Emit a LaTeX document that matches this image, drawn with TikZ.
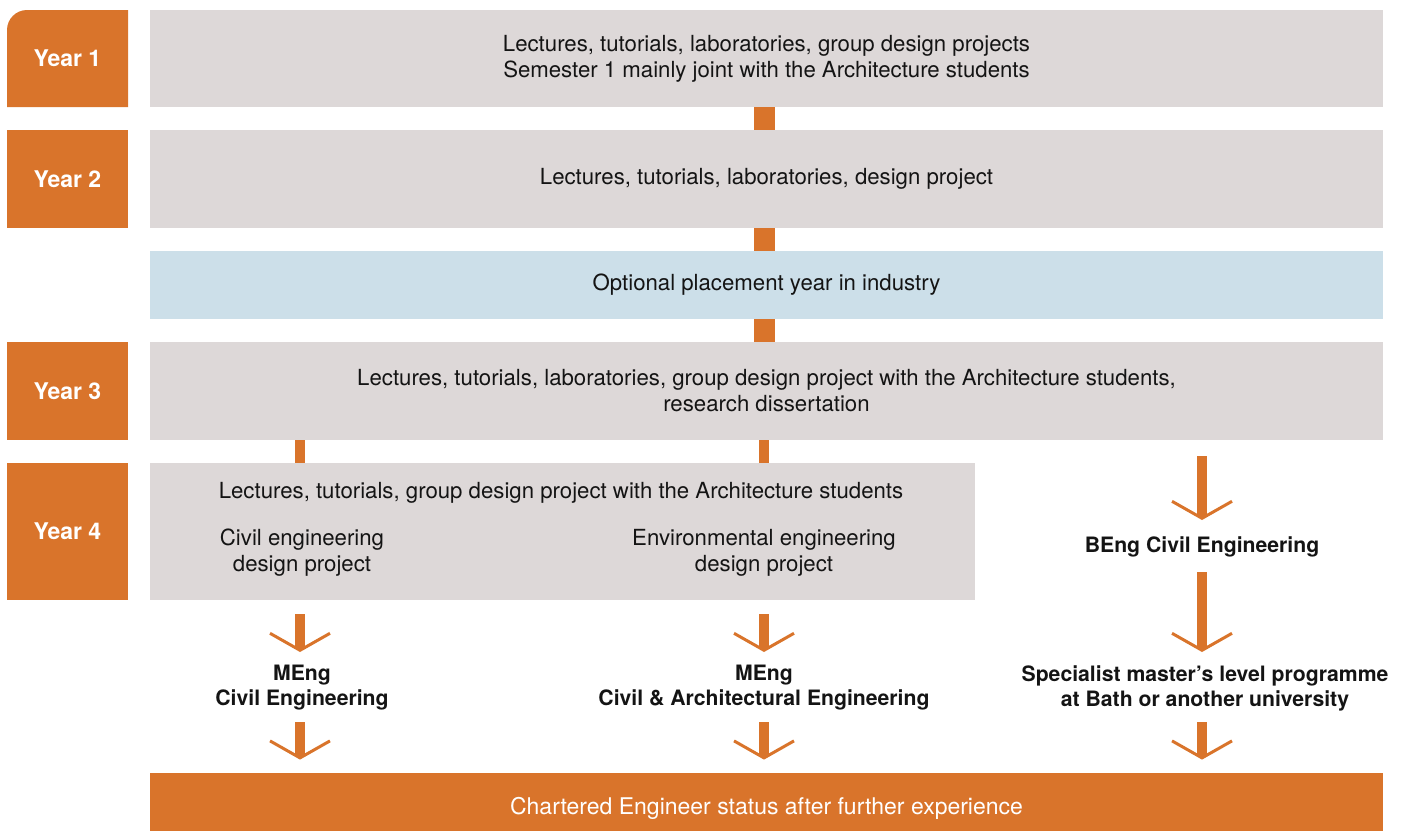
\documentclass[tikz,border=0pt]{standalone}
\usepackage{fontspec}
\setmainfont{TeX Gyre Heros}
\usetikzlibrary{arrows.meta, positioning}
\definecolor{bathorange}{RGB}{217,116,43}
\definecolor{panelgrey}{RGB}{221,216,216}
\definecolor{panelblue}{RGB}{204,223,233}
\definecolor{ink}{RGB}{20,20,20}

\begin{document}
\begin{tikzpicture}[
        x=0.5pt, y=-0.5pt,
        font=\fontsize{11.1}{13}\selectfont,
        text=ink,
        yeartab/.style = {fill=bathorange, text=white, font=\fontsize{11.5}{13}\selectfont\bfseries, minimum width=60.5pt, inner sep=0pt},
        panel/.style = {fill=panelgrey, minimum width=616.5pt, inner sep=0pt, align=center},
        link/.style = {draw=bathorange, line width=10.5pt},
        thinlink/.style = {draw=bathorange, line width=5pt},
        arr/.style = {draw=bathorange, line width=5pt, -{Straight Barb[length=8.5pt, width=30pt, line width=1.5pt]}},
        goal/.style = {align=center, font=\fontsize{10.6}{12.5}\selectfont\bfseries},
        bar/.style = {fill=bathorange, minimum width=616.5pt, minimum height=29pt, inner sep=0pt}
        ]

        \useasboundingbox (0,0) rectangle (1406,831);

        \fill[bathorange] (7,107) [rounded corners=10pt] -- (7,10) [sharp corners] -- (128,10) -- (128,107) -- cycle;
        \node[yeartab, fill=none, minimum height=48.5pt] (y1) at (67.5,58.5) {Year 1};
        \node[yeartab, minimum height=49pt] (y2) at (67.5,179) {Year 2};
        \node[yeartab, minimum height=49pt] (y3) at (67.5,391) {Year 3};
        \node[yeartab, minimum height=68.5pt] (y4) at (67.5,531.5) {Year 4};

        \node[panel, minimum height=48.5pt] (p1) at (766.5,58.5) {Lectures, tutorials, laboratories, group design projects\\Semester 1 mainly joint with the Architecture students};
        \node[panel, minimum height=49pt] (p2) at (766.5,179) {Lectures, tutorials, laboratories, design project};
        \node[panel, fill=panelblue, minimum height=34pt] (pl) at (766.5,285) {Optional placement year in industry};
        \node[panel, minimum height=49pt] (p3) at (766.5,391) {Lectures, tutorials, laboratories, group design project with the Architecture students,\\research dissertation};
        \node[panel, minimum width=412.5pt, minimum height=68.5pt] (p4) at (562.5,531.5) {};
        \node (p4top) at (561,493) {Lectures, tutorials, group design project with the Architecture students};
        \node[align=center] (civdes) at (302,553) {Civil engineering\\design project};
        \node[align=center] (envdes) at (764,553) {Environmental engineering\\design project};

        \node[goal] (beng) at (1202,547) {BEng Civil Engineering};
        \node[goal] (spec) at (1205,688) {Specialist master’s level programme\\at Bath or another university};
        \node[goal] (meng1) at (302,688) {MEng\\Civil Engineering};
        \node[goal] (meng2) at (764,688) {MEng\\Civil \& Architectural Engineering};

        \node[bar] (bar) at (766.5,802) {};
        \node[text=white, font=\fontsize{11.5}{13}\selectfont] (bartext) at (766.5,808) {Chartered Engineer status after further experience};

        \coordinate (cl) at (300,0);
        \coordinate (cm) at (764,0);
        \coordinate (cr) at (1202,0);

        \draw[link] (p1.south -| cm) -- (p2.north -| cm);
        \draw[link] (p2.south -| cm) -- (pl.north -| cm);
        \draw[link] (pl.south -| cm) -- (p3.north -| cm);
        \draw[thinlink] (p3.south -| cl) -- (p4.north -| cl);
        \draw[thinlink] (p3.south -| cm) -- (p4.north -| cm);

        \draw[arr, shorten <=8pt, shorten >=13.5pt] (p3.south -| cr) -- (beng.center -| cr);
        \draw[arr, shorten <=12.5pt, shorten >=18pt] (beng.center -| cr) -- (spec.center -| cr);
        \draw[arr, shorten <=17pt, shorten >=6.5pt] (spec.center -| cr) -- (bar.north -| cr);
        \draw[arr, shorten <=7pt, shorten >=18pt] (p4.south -| cl) -- (meng1.center -| cl);
        \draw[arr, shorten <=17pt, shorten >=6.5pt] (meng1.center -| cl) -- (bar.north -| cl);
        \draw[arr, shorten <=7pt, shorten >=18pt] (p4.south -| cm) -- (meng2.center -| cm);
        \draw[arr, shorten <=17pt, shorten >=6.5pt] (meng2.center -| cm) -- (bar.north -| cm);

      \end{tikzpicture}
\end{document}
